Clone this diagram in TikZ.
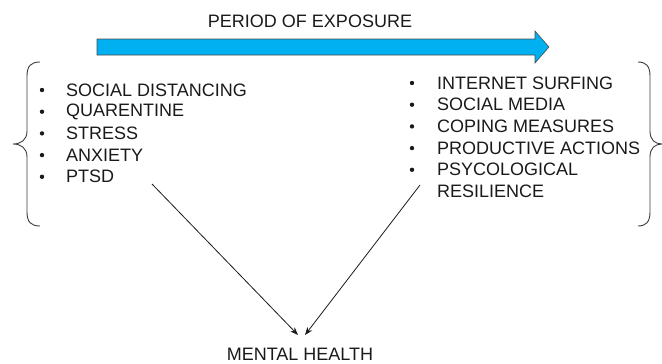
\documentclass[tikz,border=0pt]{standalone}
\usepackage{fontspec}
\setmainfont{Liberation Sans}
\usetikzlibrary{arrows.meta}
\definecolor{arrowblue}{HTML}{00B0F0}
\definecolor{txt}{HTML}{1A1A1A}
\begin{document}
\begin{tikzpicture}[x=1pt,y=-1pt,
  lbl/.style={font=\fontsize{18}{21}\selectfont, text=txt, inner sep=0pt, anchor=west},
  ttl/.style={font=\fontsize{18}{21}\selectfont, text=txt, inner sep=0pt},
  bul/.style={circle, fill=txt, inner sep=0pt, minimum size=4.4pt},
  brace/.style={draw=txt!85, line width=0.9pt},
  conn/.style={draw=txt, line width=0.8pt, -{Stealth[length=8pt,width=6pt]}}]
\useasboundingbox (0,0) rectangle (662,364);
% title and exposure arrow
\node[ttl] (title) at (310,21) {PERIOD OF EXPOSURE};
\filldraw[fill=arrowblue, draw=gray!60!black, line width=0.6pt]
  (97,39) -- (535,39) -- (535,31) -- (549,47) -- (535,63) -- (535,55) -- (97,55) -- cycle;
% left list
\foreach \t [count=\i] in {SOCIAL DISTANCING, QUARENTINE, STRESS, ANXIETY, PTSD} {
  \node[bul] (lb\i) at (42,{90+21.7*(\i-1)}) {};
  \node[lbl] (lt\i) at (66,{90+21.7*(\i-1)}) {\t};
}
% right list
\foreach \t [count=\i] in {INTERNET SURFING, SOCIAL MEDIA, COPING MEASURES, PRODUCTIVE ACTIONS, PSYCOLOGICAL} {
  \node[bul] (rb\i) at (412,{83+21.7*(\i-1)}) {};
  \node[lbl] (rt\i) at (437,{83+21.7*(\i-1)}) {\t};
}
\node[lbl] (rt6) at (437,191.5) {RESILIENCE};
% braces
\draw[brace] (40,62) .. controls (31,62) and (27,66) .. (27,76) -- (27,131)
  .. controls (27,140) and (21,144) .. (13,144)
  .. controls (21,144) and (27,148) .. (27,157) -- (27,212)
  .. controls (27,222) and (31,226) .. (40,226);
\draw[brace] (638,62) .. controls (646,62) and (650,66) .. (650,76) -- (650,131)
  .. controls (650,140) and (655,144) .. (662,144)
  .. controls (655,144) and (650,148) .. (650,157) -- (650,212)
  .. controls (650,222) and (646,226) .. (638,226);
% target
\node[ttl] (mh) at (300,354.5) {MENTAL HEALTH};
\coordinate (ls) at (152,184);
\coordinate (rs) at (420,185);
\coordinate (le) at (298,335);
\coordinate (re) at (305,335);
\draw[conn] (ls) -- (le);
\draw[conn] (rs) -- (re);
\end{tikzpicture}
\end{document}
